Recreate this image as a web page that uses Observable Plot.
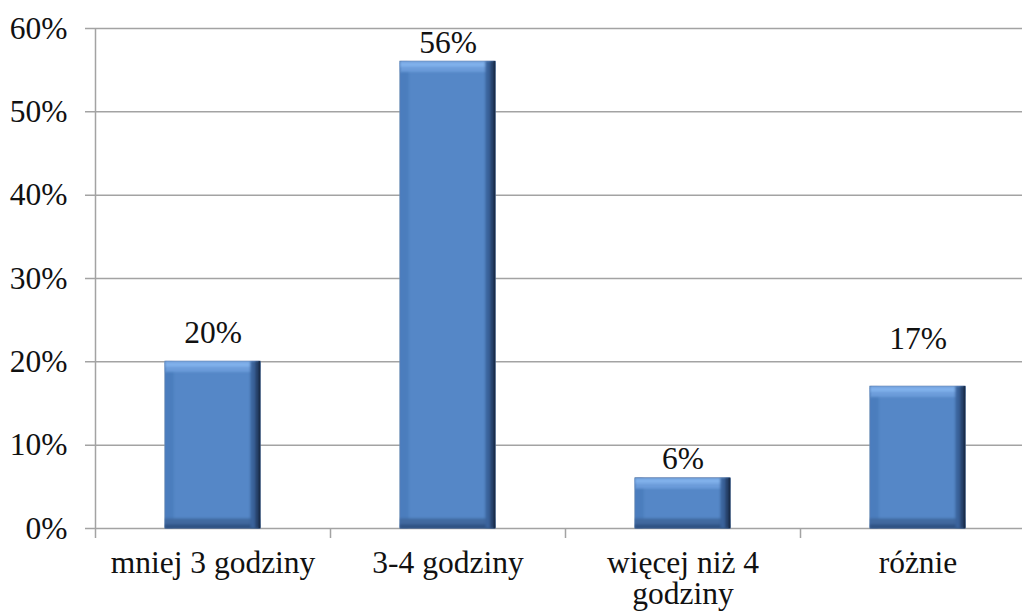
<!DOCTYPE html>
<html>
<head>
<meta charset="utf-8">
<script src="https://cdn.jsdelivr.net/npm/d3@7"></script>
<script src="https://cdn.jsdelivr.net/npm/@observablehq/plot@0.6"></script>
<style>
html, body { margin: 0; padding: 0; overflow: hidden; background: #fff; }
#chart svg { max-width: none !important; }
</style>
</head>
<body>
<div id="chart"></div>
<script>
const categories = ["mniej 3 godziny", "3-4 godziny", "więcej niż 4 godziny", "różnie"];
const values = [0.20, 0.56, 0.06, 0.17];
const valueLabels = ["20%", "56%", "6%", "17%"];
const labelPos = [0.223, 0.571, 0.071, 0.216];
const yTicks = [0, 0.1, 0.2, 0.3, 0.4, 0.5, 0.6];

const data = categories.map((c, i) => ({cat: c, value: values[i], label: valueLabels[i], ly: labelPos[i]}));

const W = 1036, H = 616, ML = 95, MR = 1;
const step = (W - ML - MR) / categories.length;
const grid = "#a3a3a3";
const FONT = "Liberation Serif";
const FS = 31.5;

const chart = Plot.plot({
  width: W,
  height: H,
  marginLeft: ML,
  marginRight: MR,
  marginTop: 28,
  marginBottom: 88,
  style: {fontFamily: FONT, fontSize: FS + "px", color: "#111", background: "#fff", maxWidth: "none"},
  x: {domain: categories, paddingInner: 0.596, paddingOuter: 0.298},
  y: {domain: [0, 0.6]},
  marks: [
    Plot.ruleY(yTicks, {stroke: grid, strokeWidth: 1.5, insetLeft: -10}),
    Plot.ruleX(categories.slice(0, 1), {x: d => d, dx: -step / 2, y1: -0.012, y2: 0.6, stroke: grid, strokeWidth: 1.5}),
    Plot.ruleX(categories.slice(1), {x: d => d, dx: -step / 2, y1: -0.012, y2: 0, stroke: grid, strokeWidth: 1.5}),
    Plot.barY(data, {x: "cat", y: "value", fill: "#5587c7", stroke: "#8e9bb0", strokeWidth: 1}),
    Plot.text(data, {x: "cat", y: "ly", text: "label", lineAnchor: "bottom", fontSize: FS, fontFamily: FONT, fill: "#111"}),
    Plot.axisY({ticks: yTicks, tickSize: 0, tickPadding: 28, tickFormat: d3.format(".0%"), fontSize: FS, fontFamily: FONT, fill: "#111", label: null}),
    Plot.axisX({tickSize: 0, tickPadding: 23, fontSize: FS, fontFamily: FONT, fill: "#111", label: null, lineHeight: 0.98,
      tickFormat: d => d === "więcej niż 4 godziny" ? "więcej niż 4\ngodziny" : d})
  ]
});
chart.style.maxWidth = "none";
chart.style.width = W + "px";
chart.style.height = H + "px";

const svg = d3.select(chart);
svg.selectAll("text, tspan")
  .attr("font-family", "Liberation Serif")
  .style("font-family", "'Liberation Serif', 'Times New Roman', serif");
svg.selectAll("g").filter(function () { return this.getAttribute("font-family"); })
  .attr("font-family", "Liberation Serif");

// bevel filter for the bars
const defs = svg.insert("defs", ":first-child");
const f = defs.append("filter").attr("id", "bevel")
  .attr("x", "-5%").attr("y", "-5%").attr("width", "110%").attr("height", "110%")
  .attr("color-interpolation-filters", "sRGB");
function strip(name, dx, dy, color, blur) {
  f.append("feOffset").attr("in", "SourceAlpha").attr("dx", dx).attr("dy", dy).attr("result", name + "o");
  f.append("feComposite").attr("in", "SourceAlpha").attr("in2", name + "o").attr("operator", "out").attr("result", name + "s");
  f.append("feFlood").attr("flood-color", color).attr("result", name + "c");
  f.append("feComposite").attr("in", name + "c").attr("in2", name + "s").attr("operator", "in").attr("result", name + "r");
  if (blur) {
    f.append("feGaussianBlur").attr("in", name + "r").attr("stdDeviation", blur).attr("result", name + "b");
    f.append("feComposite").attr("in", name + "b").attr("in2", "SourceAlpha").attr("operator", "in").attr("result", name);
  } else {
    f.append("feComposite").attr("in", name + "r").attr("in2", "SourceAlpha").attr("operator", "in").attr("result", name);
  }
}
strip("L", 9, 0, "#4b7dbd", 1);
strip("T", 0, 11, "#6c9cda", 1.2);
strip("T2", 0, 6, "#80b0ea", 1);
strip("B", 0, -10, "#41699f", 1.2);
strip("B2", 0, -4, "#2f5283", 0.8);
strip("R", -10, 0, "#3a629a", 1.2);
strip("R2", -5, 0, "#253f66", 1);
strip("R3", -2, 0, "#1a2d4a", 0.5);
const m = f.append("feMerge");
["SourceGraphic", "L", "T", "T2", "B", "B2", "R", "R2", "R3"].forEach(n => m.append("feMergeNode").attr("in", n));

svg.selectAll("g[aria-label='bar'] rect").attr("filter", "url(#bevel)");

document.getElementById("chart").appendChild(chart);
</script>
</body>
</html>
